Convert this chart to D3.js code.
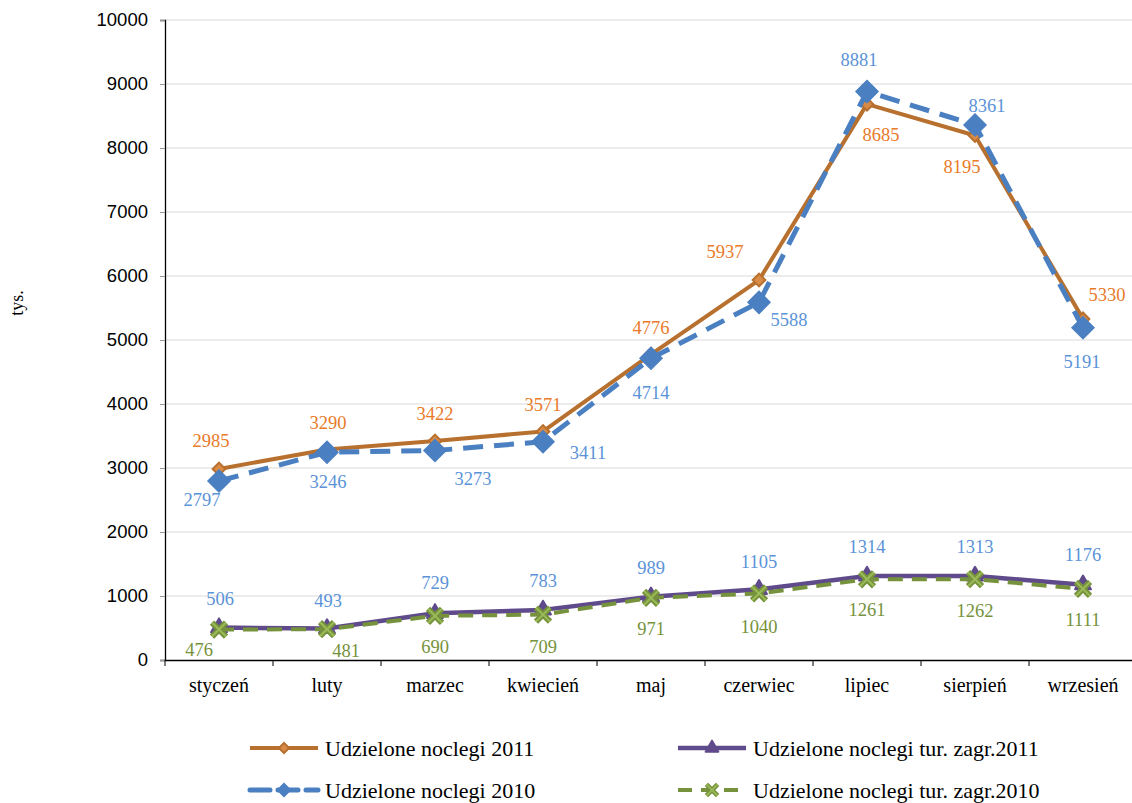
<!DOCTYPE html>
<html><head><meta charset="utf-8">
<script src="https://cdn.jsdelivr.net/npm/d3@7"></script>
<style>body{margin:0;background:#fff}svg{display:block}</style>
</head><body>
<svg id="c" width="1132" height="803"></svg>
<script>
const months = ["styczeń","luty","marzec","kwiecień","maj","czerwiec","lipiec","sierpień","wrzesień"];
const noclegi2011 = [2985,3290,3422,3571,4776,5937,8685,8195,5330];
const noclegi2010 = [2797,3246,3273,3411,4714,5588,8881,8361,5191];
const zagr2011 = [506,493,729,783,989,1105,1314,1313,1176];
const zagr2010 = [476,481,690,709,971,1040,1261,1262,1111];
const yTicks = [0,1000,2000,3000,4000,5000,6000,7000,8000,9000,10000];
const seriesNames = ["Udzielone noclegi 2011","Udzielone noclegi 2010","Udzielone noclegi tur. zagr.2011","Udzielone noclegi tur. zagr.2010"];

// label offsets (layout only)
const off2011 = [[-8,-28],[1,-27],[0,-27],[0,-27],[0,-27],[-34,-29],[14,30],[-13,31],[24,-24]];
const off2010 = [[-17,19],[1,29],[38,28],[45,11],[0,34],[30,17],[-8,-32],[12,-19],[-1,34]];
const offZ11 = [[1,-29],[1,-28],[0,-31],[0,-29],[0,-29],[0,-28],[0,-29],[0,-29],[0,-30]];
const offZ10 = [[-20,20],[19,21],[0,31],[0,32],[0,31],[0,33],[0,30],[0,31],[0,31]];

const SERIF = "'Liberation Serif','Times New Roman',serif";
const SANS = "'Liberation Sans',Arial,sans-serif";

const svg = d3.select("#c");
const L = 165, R = 1137, T = 20, B = 660;
const x = d3.scaleBand().domain(months).range([L,R]);
const y = d3.scaleLinear().domain([0,10000]).range([B,T]);
const cx = m => x(m) + x.bandwidth()/2;

// grid
svg.append("g").selectAll("line").data(yTicks.filter(d=>d>0)).join("line")
  .attr("x1",L).attr("x2",R).attr("y1",d=>y(d)).attr("y2",d=>y(d))
  .attr("stroke","#d9d9d9").attr("stroke-width",1);

// y axis
const ya = svg.append("g").attr("transform",`translate(${L},0)`)
  .call(d3.axisLeft(y).tickValues(yTicks).tickSize(5).tickPadding(12).tickFormat(d3.format("d")));
ya.select(".domain").attr("stroke","#000").attr("stroke-width",1.3);
ya.selectAll(".tick line").attr("stroke","#999");
ya.selectAll("text").style("font-family",SANS).style("font-size","18.5px").attr("fill","#000");

// x axis
const xa = svg.append("g").attr("transform",`translate(0,${B})`)
  .call(d3.axisBottom(x).tickSize(0).tickPadding(18));
xa.select(".domain").attr("stroke","#000").attr("stroke-width",1.3);
xa.selectAll("text").style("font-family",SERIF).style("font-size","20px").attr("fill","#000");
svg.append("g").selectAll("line").data(d3.range(months.length+1)).join("line")
  .attr("x1",i=>L+i*x.bandwidth()).attr("x2",i=>L+i*x.bandwidth())
  .attr("y1",B).attr("y2",B+6).attr("stroke","#000").attr("stroke-width",1);

svg.append("text").attr("transform","translate(23,303) rotate(-90)")
  .attr("text-anchor","middle").style("font-family",SERIF).style("font-size","18px").text("tys.");

const line = d3.line().x((d,i)=>cx(months[i])).y(d=>y(d));

const styles = [
  {data:noclegi2011,color:"#b8702f",w:4,dash:null,marker:"smalldiamond",lab:"#e97a2a",off:off2011},
  {data:noclegi2010,color:"#4a7fc1",w:5,dash:"20,11",marker:"diamond",lab:"#5b93d8",off:off2010},
  {data:zagr2011,color:"#5f4a8b",w:4.5,dash:null,marker:"triangle",lab:"#5b93d8",off:offZ11},
  {data:zagr2010,color:"#76923c",w:4,dash:"15,9",marker:"x",lab:"#76923c",off:offZ10}
];

function drawMarker(g, type, color, px, py, s=1){
  if(type==="smalldiamond"){
    g.append("rect").attr("x",-4.5*s).attr("y",-4.5*s).attr("width",9*s).attr("height",9*s)
      .attr("transform",`translate(${px},${py}) rotate(45)`)
      .attr("fill","#d98a45").attr("stroke",color).attr("stroke-width",2);
  } else if(type==="diamond"){
    g.append("rect").attr("x",-8*s).attr("y",-8*s).attr("width",16*s).attr("height",16*s)
      .attr("transform",`translate(${px},${py}) rotate(45)`)
      .attr("fill",color).attr("stroke",color).attr("stroke-width",1);
  } else if(type==="triangle"){
    g.append("path").attr("d",d3.symbol(d3.symbolTriangle,110*s*s)()).attr("transform",`translate(${px},${py})`)
      .attr("fill",color).attr("stroke",color).attr("stroke-width",2).attr("stroke-linejoin","round");
  } else {
    g.append("path").attr("d",d3.symbol(d3.symbolX,130*s*s)()).attr("transform",`translate(${px},${py})`)
      .attr("fill","none").attr("stroke",color).attr("stroke-width",6*s);
    g.append("path").attr("d",d3.symbol(d3.symbolX,130*s*s)()).attr("transform",`translate(${px},${py})`)
      .attr("fill","none").attr("stroke","#9bbb59").attr("stroke-width",2*s);
  }
}

[2,3,0,1].forEach(si=>{
  const s = styles[si];
  const g = svg.append("g");
  g.append("path").datum(s.data).attr("d",line).attr("fill","none")
    .attr("stroke",s.color).attr("stroke-width",s.w).attr("stroke-dasharray",s.dash)
    .attr("stroke-linejoin","round");
  s.data.forEach((v,i)=>drawMarker(g,s.marker,s.color,cx(months[i]),y(v)));
});
styles.forEach(s=>{
  svg.append("g").selectAll("text").data(s.data).join("text")
    .attr("x",(d,i)=>cx(months[i])+s.off[i][0]).attr("y",(d,i)=>y(d)+s.off[i][1])
    .attr("dy","0.35em")
    .attr("text-anchor","middle").style("font-family",SERIF)
    .style("font-size","18.5px").attr("fill",s.lab).text(d=>d);
});

// legend
const legPos = [[250,748],[250,790],[678,748],[678,790]];
styles.forEach((s,i)=>{
  const [lx,ly] = legPos[i];
  const g = svg.append("g");
  g.append("line").attr("x1",lx).attr("x2",lx+68).attr("y1",ly).attr("y2",ly)
    .attr("stroke",s.color).attr("stroke-width",s.w).attr("stroke-dasharray",s.dash? (i===1?"20,8":"14,9"):null)
    .attr("stroke-linecap",i===1?"round":"butt");
  drawMarker(g,s.marker,s.color,lx+34,ly, s.marker==="diamond"?0.6:0.8);
  g.append("text").attr("x",lx+75).attr("y",ly).attr("dy","0.35em").style("font-family",SERIF)
    .style("font-size","22px").attr("fill","#000").text(seriesNames[i]);
});
</script>
</body></html>
